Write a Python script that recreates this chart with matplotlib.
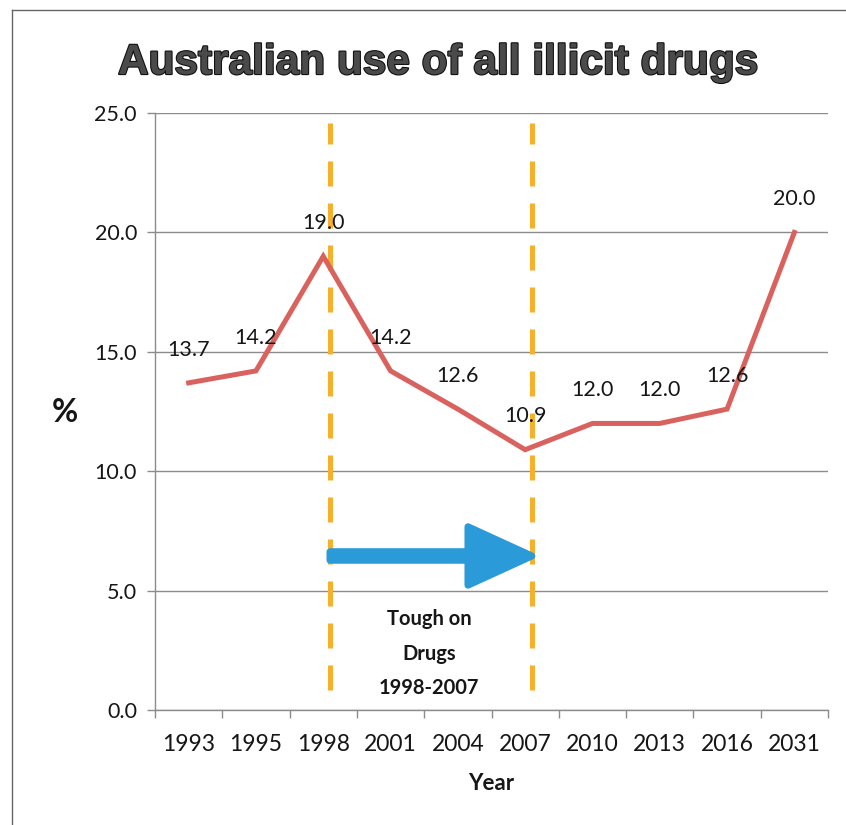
import matplotlib
matplotlib.use('Agg')
import matplotlib.pyplot as plt
import matplotlib.patheffects as pe
from matplotlib.patches import FancyArrow
from matplotlib.lines import Line2D

# ---- data ----
years = ['1993', '1995', '1998', '2001', '2004', '2007', '2010', '2013', '2016', '2031']
usage = [13.7, 14.2, 19.0, 14.2, 12.6, 10.9, 12.0, 12.0, 12.6, 20.0]
y_ticks = [0, 5, 10, 15, 20, 25]
period = ('1998', '2007')
period_label = 'Tough on\nDrugs\n1998-2007'
title = 'Australian use of all illicit drugs'

W, H = 846, 825
plt.rcParams['font.family'] = ['Lato', 'DejaVu Sans']
fig = plt.figure(figsize=(W / 100, H / 100), dpi=100)
fig.patch.set_facecolor('white')

L, R, B, T = 155 / W, 828 / W, 1 - 710 / H, 1 - 113 / H
ax = fig.add_axes([L, B, R - L, T - B])

x = list(range(len(years)))
ax.plot(x, usage, color='#d9625e', lw=3.6, solid_joinstyle='miter', zorder=4)

ax.set_xlim(-0.5, len(years) - 0.5)
ax.set_ylim(y_ticks[0], y_ticks[-1])
ax.set_yticks(y_ticks)
ax.set_yticklabels([f'{v:.1f}' for v in y_ticks])
ax.set_xticks(x)
ax.set_xticklabels(years)
ax.set_xticks([i - 0.5 for i in range(len(years) + 1)], minor=True)

grey = '#8c8c8c'
ink = '#161616'
ax.tick_params(axis='x', which='major', length=0, pad=17, labelsize=16.5, labelcolor=ink)
ax.tick_params(axis='x', which='minor', length=6, width=1, color=grey, direction='out')
ax.tick_params(axis='y', length=6, width=1, color=grey, pad=7, labelsize=15.5, labelcolor=ink)

ax.yaxis.grid(True, color=grey, lw=1)
ax.set_axisbelow(True)
for s in ['top', 'right']:
    ax.spines[s].set_visible(False)
for s in ['left', 'bottom']:
    ax.spines[s].set_color(grey)
    ax.spines[s].set_linewidth(1)

# data labels
for i, v in zip(x, usage):
    ax.annotate(f'{v:.1f}', (i, v), xytext=(0, 24), textcoords='offset points',
                ha='center', va='center', fontsize=15.5, color=ink, zorder=5)

# period markers
shift = 0.1
i0, i1 = years.index(period[0]) + shift, years.index(period[1]) + shift
for xi in (i0, i1):
    ax.axvline(xi, ymin=0.034, ymax=0.984, color='#f6b02a', lw=3.6,
               ls=(0, (5.0, 3.4)), zorder=3)

arrow_y = 6.45
arr = FancyArrow(i0, arrow_y, i1 - i0, 0, width=0.36, head_width=2.45, head_length=0.95,
                 length_includes_head=True, facecolor='#2b9ad8', edgecolor='#2b9ad8',
                 lw=5, joinstyle='round', capstyle='round', zorder=6)
ax.add_patch(arr)

ax.text((i0 + i1) / 2 - 0.03, 2.35, period_label, ha='center', va='center',
        fontsize=14.5, fontweight='bold', color=ink, linespacing=1.9)

# axis labels
fig.text(65 / W, 1 - 412 / H, '%', ha='center', va='center', fontsize=23,
         fontweight='bold', color=ink)
fig.text(491 / W, 1 - 783 / H, 'Year', ha='center', va='center', fontsize=16,
         fontweight='bold', color=ink)

# title
fig.text(439 / W, 1 - 74 / H, title, ha='center', va='baseline', fontsize=30.5,
         fontweight='bold', family='Liberation Sans', color='#4a4a4a',
         path_effects=[pe.withStroke(linewidth=1.6, foreground='#111111')])

# scanned page border
fig.add_artist(Line2D([12 / W, 12 / W], [0, 1 - 10 / H], transform=fig.transFigure,
                      color='#666666', lw=1))
fig.add_artist(Line2D([12 / W, 1], [1 - 10 / H, 1 - 10 / H], transform=fig.transFigure,
                      color='#666666', lw=1))

fig.savefig('out.png', dpi=100, facecolor='white')
